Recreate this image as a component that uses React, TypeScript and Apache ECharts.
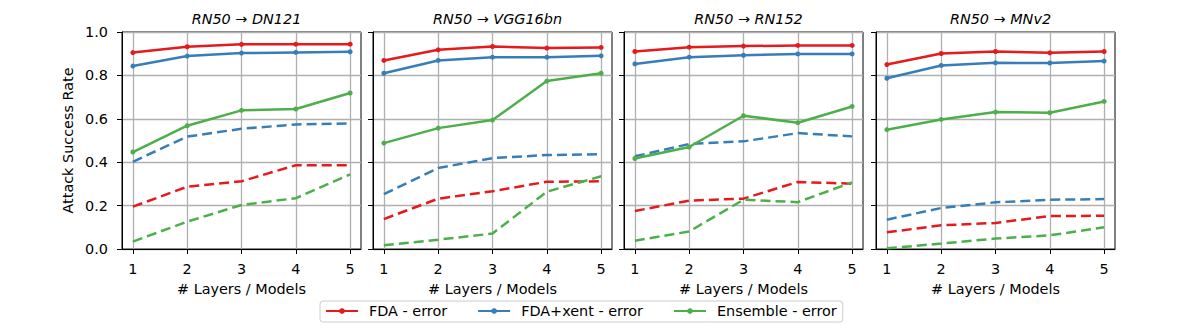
import React, { useEffect, useRef } from "react";
import * as echarts from "echarts";

const xs = [1, 2, 3, 4, 5];
const xTicks = [1, 2, 3, 4, 5];
const yTicks = [0, 0.2, 0.4, 0.6, 0.8, 1.0];
const sources = ["RN50", "RN50", "RN50", "RN50"];
const targets = ["DN121", "VGG16bn", "RN152", "MNv2"];
const legendNames = ["FDA - error", "FDA+xent - error", "Ensemble - error"];

// solid lines (with markers)
const fdaErr = [
  [0.905, 0.932, 0.943, 0.944, 0.944],
  [0.869, 0.918, 0.933, 0.926, 0.929],
  [0.91, 0.93, 0.935, 0.938, 0.938],
  [0.85, 0.901, 0.91, 0.904, 0.91],
];
const fdaXentErr = [
  [0.843, 0.889, 0.903, 0.906, 0.909],
  [0.81, 0.869, 0.884, 0.884, 0.89],
  [0.853, 0.884, 0.893, 0.899, 0.899],
  [0.787, 0.846, 0.858, 0.857, 0.866],
];
const ensembleErr = [
  [0.447, 0.568, 0.639, 0.645, 0.719],
  [0.488, 0.557, 0.594, 0.774, 0.81],
  [0.417, 0.47, 0.614, 0.582, 0.657],
  [0.55, 0.597, 0.631, 0.628, 0.68],
];
// dashed lines
const fdaDashed = [
  [0.195, 0.287, 0.312, 0.386, 0.386],
  [0.138, 0.232, 0.266, 0.31, 0.312],
  [0.175, 0.223, 0.232, 0.309, 0.301],
  [0.077, 0.109, 0.12, 0.152, 0.153],
];
const fdaXentDashed = [
  [0.402, 0.518, 0.554, 0.574, 0.579],
  [0.253, 0.373, 0.419, 0.433, 0.437],
  [0.427, 0.484, 0.496, 0.534, 0.519],
  [0.135, 0.189, 0.215, 0.227, 0.23],
];
const ensembleDashed = [
  [0.034, 0.126, 0.203, 0.234, 0.344],
  [0.017, 0.043, 0.071, 0.264, 0.335],
  [0.038, 0.081, 0.227, 0.216, 0.307],
  [0.003, 0.025, 0.048, 0.063, 0.1],
];

const colors = ["#e41a1c", "#377eb8", "#4daf4a"];
const FONT = "DejaVu Sans";
const FS = 14.4;

export default function App() {
  const ref = useRef<HTMLDivElement>(null);
  useEffect(() => {
    document.body.style.margin = "0";
    const chart = echarts.init(ref.current!, undefined, { renderer: "svg" });
    const lefts = [122, 373, 624, 876];
    const W = 239;
    const top = 32;
    const H = 217;
    const txt = { fontFamily: FONT, fontSize: FS, fontWeight: "normal", color: "#000" };
    const grids = lefts.map((l) => ({
      left: l,
      top,
      width: W,
      height: H,
      show: true,
      borderColor: "#000",
      borderWidth: 1,
      backgroundColor: "transparent",
    }));
    const xAxes = lefts.map((_, i) => ({
      type: "value",
      gridIndex: i,
      min: 0.8,
      max: 5.2,
      name: "# Layers / Models",
      nameLocation: "middle",
      nameGap: 33,
      nameTextStyle: txt,
      axisLine: { show: true, lineStyle: { color: "#000", width: 1 } },
      axisTick: { show: true, customValues: xTicks, length: 5, lineStyle: { color: "#000" } },
      axisLabel: {
        customValues: xTicks,
        ...txt,
        margin: 13,
        formatter: (v: number) => String(v),
      },
      splitLine: { show: true, lineStyle: { color: "#b0b0b0", width: 1.3 } },
    }));
    const yAxes = lefts.map((_, i) => ({
      type: "value",
      gridIndex: i,
      min: 0,
      max: 1,
      interval: 0.2,
      name: i === 0 ? "Attack Success Rate" : "",
      nameLocation: "middle",
      nameGap: 47,
      nameTextStyle: txt,
      axisLine: { show: true, lineStyle: { color: "#000", width: 1 } },
      axisTick: { show: true, length: 5, lineStyle: { color: "#000" } },
      axisLabel: {
        show: i === 0,
        customValues: yTicks,
        ...txt,
        margin: 14,
        formatter: (v: number) => v.toFixed(1),
      },
      splitLine: { show: true, lineStyle: { color: "#b0b0b0", width: 1.3 } },
    }));
    const series: any[] = [];
    const solids = [fdaErr, fdaXentErr, ensembleErr];
    const dashes = [fdaDashed, fdaXentDashed, ensembleDashed];
    for (let p = 0; p < 4; p++) {
      for (let k = 0; k < 3; k++) {
        series.push({
          type: "line",
          name: legendNames[k],
          xAxisIndex: p,
          yAxisIndex: p,
          data: xs.map((x, j) => [x, solids[k][p][j]]),
          symbol: "circle",
          symbolSize: 5,
          itemStyle: { color: colors[k] },
          lineStyle: { color: colors[k], width: 2.5 },
          z: 3,
        });
        series.push({
          type: "line",
          name: legendNames[k] + " (dashed)",
          xAxisIndex: p,
          yAxisIndex: p,
          data: xs.map((x, j) => [x, dashes[k][p][j]]),
          showSymbol: false,
          symbol: "none",
          itemStyle: { color: colors[k] },
          lineStyle: { color: colors[k], width: 2.5, type: [10, 5] },
          z: 3,
        });
      }
    }
    const titles = lefts.map((l, i) => ({
      text: `{i|${sources[i]}}{n| → }{i|${targets[i]}}`,
      left: l + W / 2,
      top: 7,
      textAlign: "center",
      textStyle: {
        ...txt,
        rich: {
          i: { ...txt, fontStyle: "italic" },
          n: { ...txt },
        },
      },
    }));
    chart.setOption({
      animation: false,
      backgroundColor: "#fff",
      title: titles,
      grid: grids,
      xAxis: xAxes,
      yAxis: yAxes,
      legend: {
        data: legendNames,
        left: 320,
        top: 301,
        orient: "horizontal",
        backgroundColor: "#fff",
        borderColor: "#ccc",
        borderWidth: 1,
        borderRadius: 3,
        padding: [3, 6, 4, 5],
        itemWidth: 32,
        itemHeight: 7,
        itemGap: 30,
        selectedMode: false,
        textStyle: { ...txt, padding: [0, 0, 0, 6] },
      },
      series,
    } as any);
    return () => chart.dispose();
  }, []);
  return <div ref={ref} style={{ width: 1196, height: 325 }} />;
}
